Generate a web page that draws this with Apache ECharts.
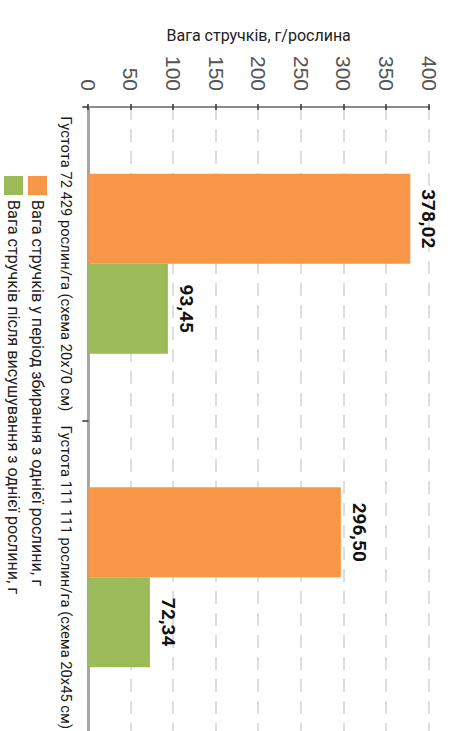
<!DOCTYPE html>
<html>
<head>
<meta charset="utf-8">
<script src="https://cdn.jsdelivr.net/npm/echarts@6/dist/echarts.min.js"></script>
<style>
html,body{margin:0;padding:0;background:#fff;overflow:hidden;width:453px;height:731px;}
#chart{position:absolute;left:0;top:0;width:731px;height:453px;transform-origin:0 0;transform:translate(453px,0) rotate(90deg);}
</style>
</head>
<body>
<div id="chart"></div>
<script>
const categories = ['Густота 72 429 рослин/га (схема 20х70 см)', 'Густота 111 111 рослин/га (схема 20х45 см)'];
const seriesNames = ['Вага стручків у період збирання з однієї рослини, г', 'Вага стручків після висушування з однієї рослини, г'];
const harvestWeight = [378.02, 296.50];
const driedWeight = [93.45, 72.34];
const axisTitle = 'Вага стручків, г/рослина';
const valueMin = 0, valueMax = 400, valueStep = 50;

const FONT = 'Roboto, "Liberation Sans", sans-serif';
const chart = echarts.init(document.getElementById('chart'), null, {renderer: 'svg', width: 731, height: 453});
const fmt = p => p.value.toFixed(2).replace('.', ',');
const labelStyle = {show: true, position: 'top', distance: 9, formatter: fmt, color: '#111', fontFamily: FONT, fontWeight: 'bold', fontSize: 19};
chart.setOption({
  backgroundColor: '#fff',
  animation: false,
  grid: {left: 107, right: -3, top: 24, bottom: 88.3, containLabel: false, outerBoundsMode: 'none'},
  legend: {
    orient: 'vertical', left: 176, top: 406, height: 50, padding: 0, itemWidth: 19, itemHeight: 19, itemGap: 5,
    icon: 'rect', textStyle: {fontFamily: FONT, fontSize: 16.2, color: '#222', lineHeight: 19},
    data: seriesNames
  },
  xAxis: {
    type: 'category', data: categories,
    axisLine: {lineStyle: {color: '#a6a6a6', width: 3}},
    axisTick: {show: true, length: 6, lineStyle: {color: '#333', width: 1.5}},
    axisLabel: {margin: 15, fontFamily: FONT, fontSize: 14.7, color: '#1a1a1a', interval: 0}
  },
  yAxis: [{
    type: 'value', min: valueMin, max: valueMax, interval: valueStep,
    name: axisTitle, nameLocation: 'middle', nameGap: 64,
    nameTextStyle: {fontFamily: FONT, fontSize: 16, color: '#222'},
    axisLine: {show: true, lineStyle: {color: '#8a8a8a', width: 2}},
    axisTick: {show: true, length: 3, lineStyle: {color: '#333', width: 1.5}},
    axisLabel: {margin: 16, fontFamily: '"Liberation Sans", sans-serif', fontSize: 21, color: '#555'},
    splitLine: {show: true, lineStyle: {color: '#d4d4d4', width: 1.5, type: [13, 9]}}
  }, {
    type: 'value', position: 'left', min: valueMin, max: valueMax, interval: valueStep,
    axisLine: {show: false},
    axisTick: {show: true, inside: true, length: 3, lineStyle: {color: '#333', width: 1.5}},
    axisLabel: {show: false}, splitLine: {show: false}
  }],
  series: [{
    name: seriesNames[0], type: 'bar', data: harvestWeight, barWidth: 90, barGap: '0%',
    itemStyle: {color: '#F79646'}, label: labelStyle
  }, {
    name: seriesNames[1], type: 'bar', data: driedWeight, barWidth: 90, barGap: '0%',
    itemStyle: {color: '#9BBB59'}, label: labelStyle
  }]
});
</script>
</body>
</html>
